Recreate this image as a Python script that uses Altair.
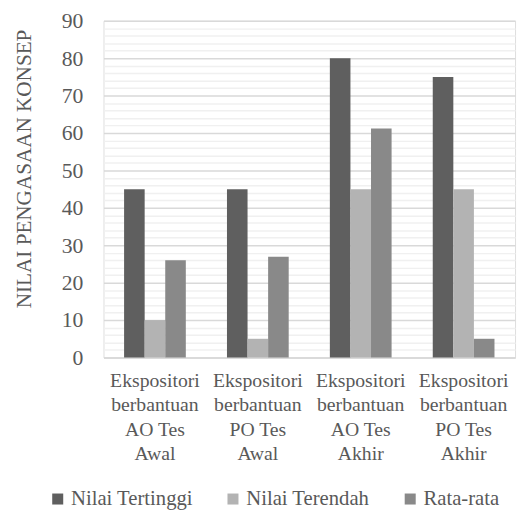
import altair as alt
import pandas as pd

categories = [
    "Ekspositori|berbantuan|AO Tes|Awal",
    "Ekspositori|berbantuan|PO Tes|Awal",
    "Ekspositori|berbantuan|AO Tes|Akhir",
    "Ekspositori|berbantuan|PO Tes|Akhir",
]
series = ["Nilai Tertinggi", "Nilai Terendah", "Rata-rata"]
tertinggi = [45, 45, 80, 75]
terendah = [10, 5, 45, 45]
rata = [26, 26.9, 61.2, 5]
colors = ["#5f5f5f", "#b3b3b3", "#898989"]
y_ticks = list(range(0, 91, 2))

rows = []
for s, vals in zip(series, [tertinggi, terendah, rata]):
    for c, v in zip(categories, vals):
        rows.append({"kategori": c, "seri": s, "nilai": v})
df = pd.DataFrame(rows)

FONT = "Liberation Serif"
TXT = "#595959"

chart = alt.Chart(df).mark_bar().encode(
    x=alt.X("kategori:N", sort=categories, title=None,
            scale=alt.Scale(paddingInner=0.4, paddingOuter=0.2),
            axis=alt.Axis(labelExpr="split(datum.value, '|')", labelAngle=0,
                          labelFont=FONT, labelFontSize=20, labelColor=TXT,
                          labelLineHeight=25, labelPadding=13, ticks=False,
                          domainColor="#d9d9d9", domainWidth=1.5, labelBaseline="top")),
    xOffset=alt.XOffset("seri:N", sort=series),
    y=alt.Y("nilai:Q", title="NILAI PENGASAAN KONSEP",
            scale=alt.Scale(domain=[0, 90], nice=False),
            axis=alt.Axis(values=y_ticks,
                          labelExpr="datum.value % 10 === 0 ? datum.label : ''",
                          labelFont=FONT, labelFontSize=22, labelColor=TXT,
                          labelPadding=21, ticks=False, domain=False,
                          gridColor=alt.condition("datum.value % 10 === 0",
                                                  alt.value("#d9d9d9"), alt.value("#f0f0f0")),
                          gridWidth=1.5,
                          titleFont=FONT, titleFontSize=21.5, titleFontWeight="normal",
                          titleColor=TXT, titleX=-80, titleY=150,
                          titleBaseline="middle", titleAlign="center")),
    color=alt.Color("seri:N", sort=series,
                    scale=alt.Scale(domain=series, range=colors),
                    legend=alt.Legend(orient="none", legendX=-57, legendY=475,
                                      direction="horizontal", title=None,
                                      symbolType="square", symbolSize=125,
                                      symbolStrokeWidth=0, labelFont=FONT,
                                      labelFontSize=21, labelColor=TXT,
                                      columnPadding=30, symbolOffset=0, labelOffset=3)),
).properties(
    width=418, height=342,
    autosize=alt.AutoSizeParams(type="none"),
    padding={"left": 97, "top": 9, "right": 4, "bottom": 155},
).configure_view(stroke=None).configure(font=FONT)

chart.save("out.html", embed_options={"renderer": "svg", "actions": False})
